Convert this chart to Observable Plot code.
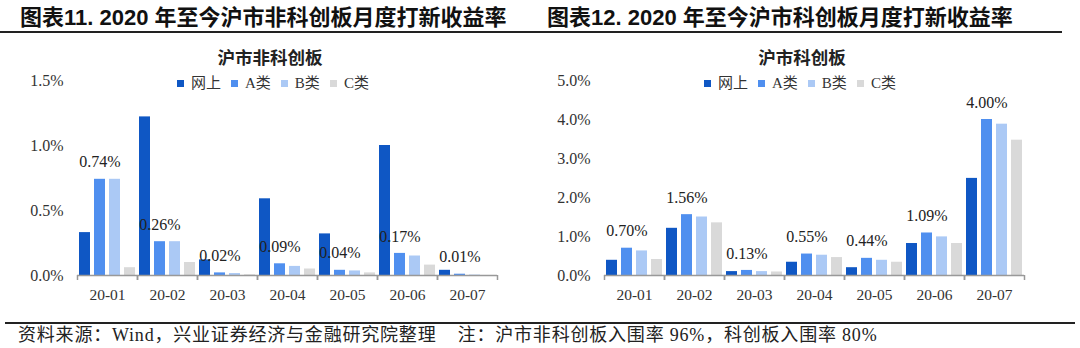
<!DOCTYPE html>
<html><head><meta charset="utf-8">
<script src="https://cdn.jsdelivr.net/npm/d3@7"></script>
<script src="https://cdn.jsdelivr.net/npm/@observablehq/plot@0.6"></script>
<style>
body{margin:0;background:#fff;}
#wrap{position:relative;width:1080px;height:348px;overflow:hidden;background:#fff;}
.abs{position:absolute;white-space:nowrap;}
.title{font-family:"Liberation Sans","Noto Sans CJK SC",sans-serif;font-weight:bold;font-size:22px;line-height:24px;color:#111;top:6px;}
.sub{font-family:"Noto Sans CJK SC",sans-serif;font-weight:bold;font-size:17.5px;line-height:20px;color:#222;top:47px;transform:translateX(-50%);}
.hline{position:absolute;background:#222;height:2px;}
.legend{position:absolute;top:75px;display:flex;gap:10px;font-family:"Liberation Serif","Noto Sans CJK SC",serif;font-size:15px;line-height:17px;color:#333;}
.legend .it{display:flex;align-items:center;gap:7px;}
.legend .sw{width:7px;height:7px;display:inline-block;}
.foot{font-family:"Liberation Serif","Noto Sans CJK SC",serif;font-size:18px;letter-spacing:0.8px;line-height:20px;color:#222;left:18px;top:325px;}
.plot{position:absolute;top:0;}
.plot, .plot text{font-family:"Liberation Serif","Noto Sans CJK SC",serif !important;}
</style></head>
<body><div id="wrap"></div>
<script>
const months = ["20-01","20-02","20-03","20-04","20-05","20-06","20-07"];
const series = ["网上","A类","B类","C类"];
const colors = ["#0f57c4","#4f8fef","#abc9f5","#d9d9d9"];

// 沪市非科创板 (%)
const mainNet = [0.33, 1.22, 0.12, 0.59, 0.32, 1.00, 0.04];
const mainA   = [0.74, 0.26, 0.02, 0.09, 0.04, 0.17, 0.01];
const mainB   = [0.74, 0.26, 0.015, 0.07, 0.035, 0.15, 0.003];
const mainC   = [0.06, 0.10, 0.005, 0.05, 0.02, 0.08, 0.0];
const mainTicks = [0, 0.5, 1.0, 1.5];

// 沪市科创板 (%)
const starNet = [0.39, 1.21, 0.10, 0.34, 0.20, 0.82, 2.49];
const starA   = [0.70, 1.56, 0.13, 0.55, 0.44, 1.09, 4.00];
const starB   = [0.63, 1.50, 0.10, 0.52, 0.39, 0.99, 3.88];
const starC   = [0.41, 1.35, 0.09, 0.46, 0.34, 0.82, 3.47];
const starTicks = [0, 1, 2, 3, 4, 5];

const FONT = '"Liberation Serif","Noto Sans CJK SC",serif';

function makeChart(vals, ticks, mL, mR) {
  const data = [];
  months.forEach((m, i) => series.forEach((s, j) => data.push({month: m, series: s, value: vals[j][i]})));
  const labels = months.map((m, i) => ({month: m, series: "A类", value: vals[1][i]}));
  const W = 540, H = 348;
  const bw = (W - mL - mR) / months.length;
  const yMax = ticks[ticks.length - 1];
  return Plot.plot({
    width: W, height: H,
    marginTop: 80, marginBottom: 73, marginLeft: mL, marginRight: mR,
    style: {background: "transparent", fontFamily: FONT, color: "#333", overflow: "visible"},
    fx: {domain: months, padding: 0, label: null},
    x: {domain: series, paddingInner: 0.27, paddingOuter: 0.13, axis: null},
    y: {domain: [0, yMax], label: null},
    color: {domain: series, range: colors},
    marks: [
      Plot.axisY({ticks: ticks, tickSize: 0, tickPadding: 14, tickFormat: d => d.toFixed(1) + "%", label: null, fontSize: 16, fill: "#333"}),
      Plot.axisFx({anchor: "bottom", tickSize: 0, tickPadding: 13, label: null, fontSize: 15.5, fill: "#333"}),
      Plot.axisFx({anchor: "bottom", tickSize: 5, tickFormat: () => "", label: null, dx: -bw / 2, stroke: "#999", strokeWidth: 1.5}),
      Plot.axisFx({anchor: "bottom", tickSize: 5, tickFormat: () => "", label: null, dx: bw / 2, stroke: "#999", strokeWidth: 1.5}),
      Plot.barY(data, {fx: "month", x: "series", y: "value", fill: "series"}),
      Plot.ruleY([0], {stroke: "#999", strokeWidth: 1.5}),
      Plot.text(labels, {fx: "month", x: "series", y: "value", text: d => d.value.toFixed(2) + "%", dy: -17, fontSize: 16, fill: "#222"})
    ]
  });
}

const wrap = document.getElementById("wrap");
const left = makeChart([mainNet, mainA, mainB, mainC], mainTicks, 77, 43);
left.classList.add("plot"); left.style.left = "0px";
const right = makeChart([starNet, starA, starB, starC], starTicks, 64, 56);
right.classList.add("plot"); right.style.left = "540px";
wrap.appendChild(left);
wrap.appendChild(right);

function addDiv(cls, html, styles) {
  const d = document.createElement("div");
  d.className = cls;
  d.innerHTML = html;
  Object.assign(d.style, styles || {});
  wrap.appendChild(d);
  return d;
}
addDiv("abs title", "图表11. 2020 年至今沪市非科创板月度打新收益率", {left: "20px"});
addDiv("abs title", "图表12. 2020 年至今沪市科创板月度打新收益率", {left: "547px"});
addDiv("hline", "", {left: "0px", top: "31px", width: "1062px"});
addDiv("abs sub", "沪市非科创板", {left: "270px"});
addDiv("abs sub", "沪市科创板", {left: "802px"});

function legend(x) {
  const html = series.map((s, i) => `<span class="it"><span class="sw" style="background:${colors[i]}"></span><span>${s}</span></span>`).join("");
  addDiv("legend", html, {left: x + "px"});
}
legend(177);
legend(704);

addDiv("hline", "", {left: "5px", top: "321.5px", width: "1070px"});
addDiv("abs foot", "资料来源：Wind，兴业证券经济与金融研究院整理&nbsp;&nbsp;&nbsp;&nbsp;注：沪市非科创板入围率 96%，科创板入围率 80%");
</script>
</body></html>
